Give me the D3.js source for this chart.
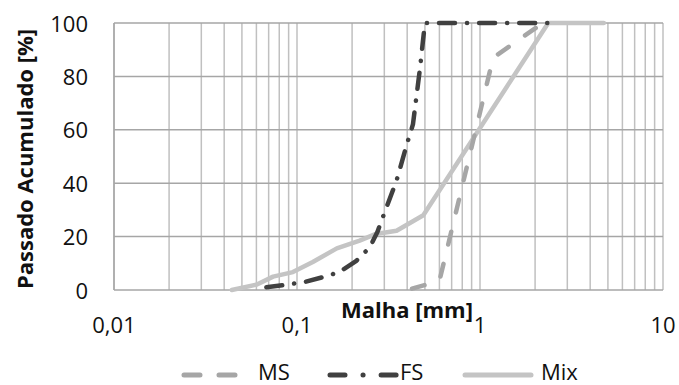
<!DOCTYPE html>
<html>
<head>
<meta charset="utf-8">
<script src="https://cdn.jsdelivr.net/npm/d3@7"></script>
<style>
  body { margin: 0; background: #fff; }
  text { font-family: "Open Sans", sans-serif; fill: #111; }
</style>
</head>
<body>
<svg id="svg"></svg>
<script>
// curves: [mesh mm, % passing]
const msData = [[0.425, 0.5], [0.6, 3.4], [1.18, 87], [2.0, 98], [2.36, 100]]
const fsData = [[0.068, 1], [0.086, 1.9], [0.11, 3], [0.14, 4.9], [0.17, 6.7], [0.21, 10.8],
  [0.25, 16], [0.275, 21.7], [0.3, 28.8], [0.35, 41], [0.4, 55], [0.43, 62], [0.47, 83],
  [0.5, 100], [2.36, 100]]
const mixData = [[0.044, 0], [0.06, 2], [0.074, 5], [0.095, 6.7], [0.122, 10.5], [0.165, 15.6],
  [0.22, 18.5], [0.27, 21], [0.35, 22.2], [0.49, 28], [2.36, 100], [4.75, 100]]

const xTicks = [0.01, 0.1, 1, 10]
const xTickLabels = ["0,01", "0,1", "1", "10"]
const yTicks = [0, 20, 40, 60, 80, 100]

const svg = d3.select("#svg").attr("width", 679).attr("height", 385)

const x = d3.scaleLog().domain([0.01, 10]).range([114, 663])
const y = d3.scaleLinear().domain([0, 100]).range([290, 23])

// minor + major vertical grid
const vLines = []
for (let e = -2; e < 1; e++) {
  for (let k = 1; k <= 9; k++) vLines.push(k * Math.pow(10, e))
}
vLines.push(10)

svg.append("g")
  .selectAll("line")
  .data(vLines)
  .enter()
  .append("line")
  .attr("x1", d => x(d)).attr("x2", d => x(d))
  .attr("y1", y(0)).attr("y2", y(100))
  .attr("stroke", "#c0c0c0")
  .attr("stroke-width", 1.5)

svg.append("g")
  .selectAll("line")
  .data(yTicks)
  .enter()
  .append("line")
  .attr("x1", x(0.01)).attr("x2", x(10))
  .attr("y1", d => y(d)).attr("y2", d => y(d))
  .attr("stroke", "#a6a6a6")
  .attr("stroke-width", 1.5)

svg.append("line")
  .attr("x1", x(0.01)).attr("x2", x(0.01))
  .attr("y1", y(0)).attr("y2", y(100))
  .attr("stroke", "#a6a6a6").attr("stroke-width", 1.5)

// tick labels
svg.append("g")
  .selectAll("text")
  .data(yTicks)
  .enter()
  .append("text")
  .attr("x", 88)
  .attr("y", d => y(d) + 8.5)
  .attr("text-anchor", "end")
  .attr("font-size", 22)
  .text(d => d)

svg.append("g")
  .selectAll("text")
  .data(xTicks)
  .enter()
  .append("text")
  .attr("x", d => x(d))
  .attr("y", 333)
  .attr("text-anchor", "middle")
  .attr("font-size", 22)
  .text((d, i) => xTickLabels[i])

svg.append("text")
  .attr("x", 407).attr("y", 318)
  .attr("text-anchor", "middle")
  .attr("font-size", 22)
  .attr("font-weight", "bold")
  .text("Malha [mm]")

svg.append("text")
  .attr("transform", "translate(33,159) rotate(-90)")
  .attr("text-anchor", "middle")
  .attr("font-size", 22)
  .attr("font-weight", "bold")
  .text("Passado Acumulado [%]")

// series
const line = d3.line().x(d => x(d[0])).y(d => y(d[1]))

const series = [
  { name: "Mix", data: mixData, color: "#c4c4c4", dash: null, w: 4.5, lx1: 465, lx2: 531, tx: 541, ldash: null },
  { name: "MS", data: msData, color: "#a6a6a6", dash: "13,20", w: 4.5, lx1: 184, lx2: 236, tx: 258, ldash: "16,19" },
  { name: "FS", data: fsData, color: "#404040", dash: "16,12,0.1,12", w: 4.5, lx1: 330, lx2: 397, tx: 400, ldash: "15,18,0.1,18" }
]

svg.append("g")
  .selectAll("path")
  .data(series)
  .enter()
  .append("path")
  .attr("d", d => line(d.data))
  .attr("fill", "none")
  .attr("stroke", d => d.color)
  .attr("stroke-width", d => d.w)
  .attr("stroke-linecap", "round")
  .attr("stroke-linejoin", "round")
  .attr("stroke-dasharray", d => d.dash)

// legend
const legend = svg.append("g")
  .selectAll("g")
  .data(series)
  .enter()
  .append("g")

legend.append("line")
  .attr("x1", d => d.lx1).attr("x2", d => d.lx2)
  .attr("y1", 375).attr("y2", 375)
  .attr("stroke", d => d.color)
  .attr("stroke-width", 5)
  .attr("stroke-linecap", "round")
  .attr("stroke-dasharray", d => d.ldash)

legend.append("text")
  .attr("x", d => d.tx)
  .attr("y", 380)
  .attr("font-size", 22)
  .text(d => d.name)
</script>
</body>
</html>
